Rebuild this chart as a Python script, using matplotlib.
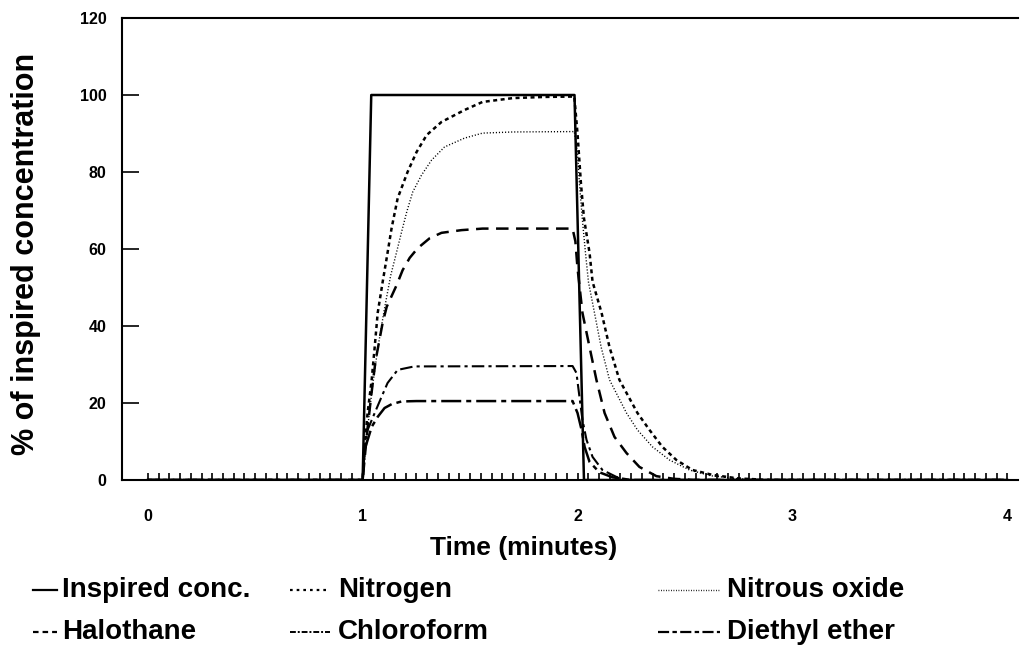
import numpy as np
import matplotlib
matplotlib.use("Agg")
import matplotlib.pyplot as plt
from matplotlib.lines import Line2D
from matplotlib.ticker import MultipleLocator, FixedLocator

plt.rcParams['font.family'] = ['Liberation Sans', 'DejaVu Sans']

# time (minutes) / % of inspired concentration, read per curve
t_insp = [0.0, 1.0, 1.04, 1.986, 2.03, 4.0]
c_insp = [0, 0, 100, 100, 0, 0]

t_n2 = [0.0, 1.0, 1.009, 1.023, 1.042, 1.056, 1.07, 1.093, 1.112, 1.135, 1.163, 1.209,
        1.251, 1.298, 1.367, 1.474, 1.558, 1.7, 1.85, 1.985,
        2.0, 2.016, 2.03, 2.056, 2.07, 2.112, 2.149, 2.195, 2.279, 2.335, 2.395, 2.46,
        2.535, 2.63, 2.75, 2.9, 4.0]
c_n2 = [0, 0, 8.6, 17.4, 26, 34.5, 43.4, 51.4, 57.7, 65.5, 73.2, 80,
        85.2, 89.6, 93, 96.1, 98.2, 99.2, 99.5, 99.6,
        90, 77, 68, 59, 51.5, 43.4, 34.5, 26, 17.4, 13, 8.6, 5.2,
        2.6, 1.3, 0.4, 0, 0]

t_n2o = [0.0, 1.0, 1.02, 1.045, 1.07, 1.1, 1.13, 1.158, 1.181, 1.205, 1.233, 1.274,
         1.321, 1.381, 1.474, 1.558, 1.7, 1.985,
         2.0, 2.009, 2.022, 2.037, 2.051, 2.079, 2.11, 2.149, 2.228, 2.279, 2.349, 2.428,
         2.521, 2.62, 2.75, 2.9, 4.0]
c_n2o = [0, 0, 12, 24, 34, 44, 53, 59.2, 64.4, 69.6, 74.8, 79.2,
         83.1, 86.5, 88.8, 90.1, 90.4, 90.5,
         85, 77, 68, 59, 51.4, 43.4, 34.5, 26, 17.4, 13, 8.6, 5.2,
         2.6, 1.1, 0.3, 0, 0]

t_halo = [0.0, 1.0, 1.02, 1.04, 1.06, 1.093, 1.112, 1.158, 1.186, 1.219, 1.256, 1.312,
          1.367, 1.46, 1.558, 1.977,
          1.99, 2.0, 2.01, 2.023, 2.056, 2.088, 2.126, 2.172, 2.228, 2.288, 2.367, 2.45,
          2.55, 4.0]
c_halo = [0, 0, 12, 22, 31, 40.8, 45, 50.6, 54.5, 57.7, 60.2, 62.8,
          64.2, 64.9, 65.3, 65.3,
          62, 55, 50, 43.4, 34.5, 26, 17.4, 11.2, 7, 3.4, 1.0, 0.3,
          0, 0]

t_chcl3 = [0.0, 1.0, 1.008, 1.023, 1.056, 1.088, 1.116, 1.163, 1.24, 1.977,
           1.995, 2.009, 2.023, 2.042, 2.07, 2.116, 2.181, 2.24, 4.0]
c_chcl3 = [0, 0, 8, 13, 17.4, 21.6, 25.2, 28.6, 29.5, 29.6,
           27.8, 21.6, 15.6, 10.4, 6, 2.6, 0.8, 0, 0]

t_ether = [0.0, 1.0, 1.01, 1.042, 1.07, 1.102, 1.135, 1.181, 1.25, 1.977,
           2.0, 2.019, 2.033, 2.056, 2.102, 2.163, 2.25, 4.0]
c_ether = [0, 0, 8, 13.8, 16.4, 18.7, 19.7, 20.4, 20.5, 20.5,
           17.4, 13, 8.6, 4.7, 2, 0.7, 0, 0]

labels = ["Inspired conc.", "Nitrogen", "Nitrous oxide",
          "Halothane", "Chloroform", "Diethyl ether"]
times = [t_insp, t_n2, t_n2o, t_halo, t_chcl3, t_ether]
concs = [c_insp, c_n2, c_n2o, c_halo, c_chcl3, c_ether]

# line styles for the curves and for the (shorter) legend samples
styles = [dict(ls='-', lw=1.8),
          dict(ls=(0, (1.6, 1.4)), lw=1.8),
          dict(ls=(0, (0.8, 1.4)), lw=1.0),
          dict(ls=(0, (5, 3)), lw=1.8),
          dict(ls=(0, (6, 2, 1.5, 2)), lw=1.5),
          dict(ls=(0, (8, 2, 2, 2)), lw=1.8)]
key_styles = [dict(ls='-', lw=1.6),
              dict(ls=(0, (1.2, 1.8)), lw=1.6),
              dict(ls=(0, (0.6, 1.2)), lw=1.0),
              dict(ls=(0, (2.5, 1.8)), lw=1.6),
              dict(ls=(0, (3, 1, 1, 1)), lw=1.4),
              dict(ls=(0, (5, 1.5, 2, 1.5)), lw=1.6)]

W, H = 1022, 658
fig = plt.figure(figsize=(W / 100, H / 100), dpi=100)
ax = fig.add_axes([122 / W, 1 - 480 / H, (1018 - 122) / W, (480 - 18) / H])

for t, c, st in zip(times, concs, styles):
    ax.plot(t, c, color='black', **st)

ax.set_xlim(-0.12, 4.05)
ax.set_ylim(0, 120)

ax.spines['right'].set_visible(False)
for s in ['left', 'bottom', 'top']:
    ax.spines[s].set_linewidth(1.5)

ax.xaxis.set_major_locator(MultipleLocator(1))
# small ticks every 3 s, from 0 to 4 min only
ax.xaxis.set_minor_locator(FixedLocator(np.arange(0, 4.001, 0.05)))
ax.yaxis.set_major_locator(MultipleLocator(20))
ax.tick_params(axis='x', which='both', direction='in', length=5, width=1.2, pad=21,
               top=False, labelsize=11.5)
ax.tick_params(axis='y', direction='in', length=12, width=1.2, pad=11, labelsize=11.5,
               right=False)
for lab in ax.get_xticklabels() + ax.get_yticklabels():
    lab.set_fontweight('bold')
yt = list(ax.get_yticklines())
# no tick marks at 0 and 120, they sit on the spines
for tl in yt[0:2] + yt[-2:]:
    tl.set_visible(False)

ax.set_xlabel('Time (minutes)', fontsize=19, fontweight='bold')
ax.xaxis.set_label_coords((524 - 122) / (1018 - 122), -(548 - 480) / (480 - 18))
ax.xaxis.label.set_va('center')
ax.set_ylabel('% of inspired concentration', fontsize=22, fontweight='bold')
ax.yaxis.set_label_coords(-(122 - 26) / (1018 - 122), 0.49)
ax.yaxis.label.set_va('center')

# legend below the axes, three columns
cols = [(33, 57, 62), (290, 330, 338), (658, 720, 727)]
rows = [590, 632]
for i, (name, st) in enumerate(zip(labels, key_styles)):
    x0, x1, xt = cols[i % 3]
    y = 1 - rows[i // 3] / H
    fig.add_artist(Line2D([x0 / W, x1 / W], [y, y], color='black',
                          transform=fig.transFigure, **st))
    fig.text(xt / W, y, name, fontsize=20, fontweight='bold', va='center', ha='left')

fig.savefig('out.png', dpi=100)
